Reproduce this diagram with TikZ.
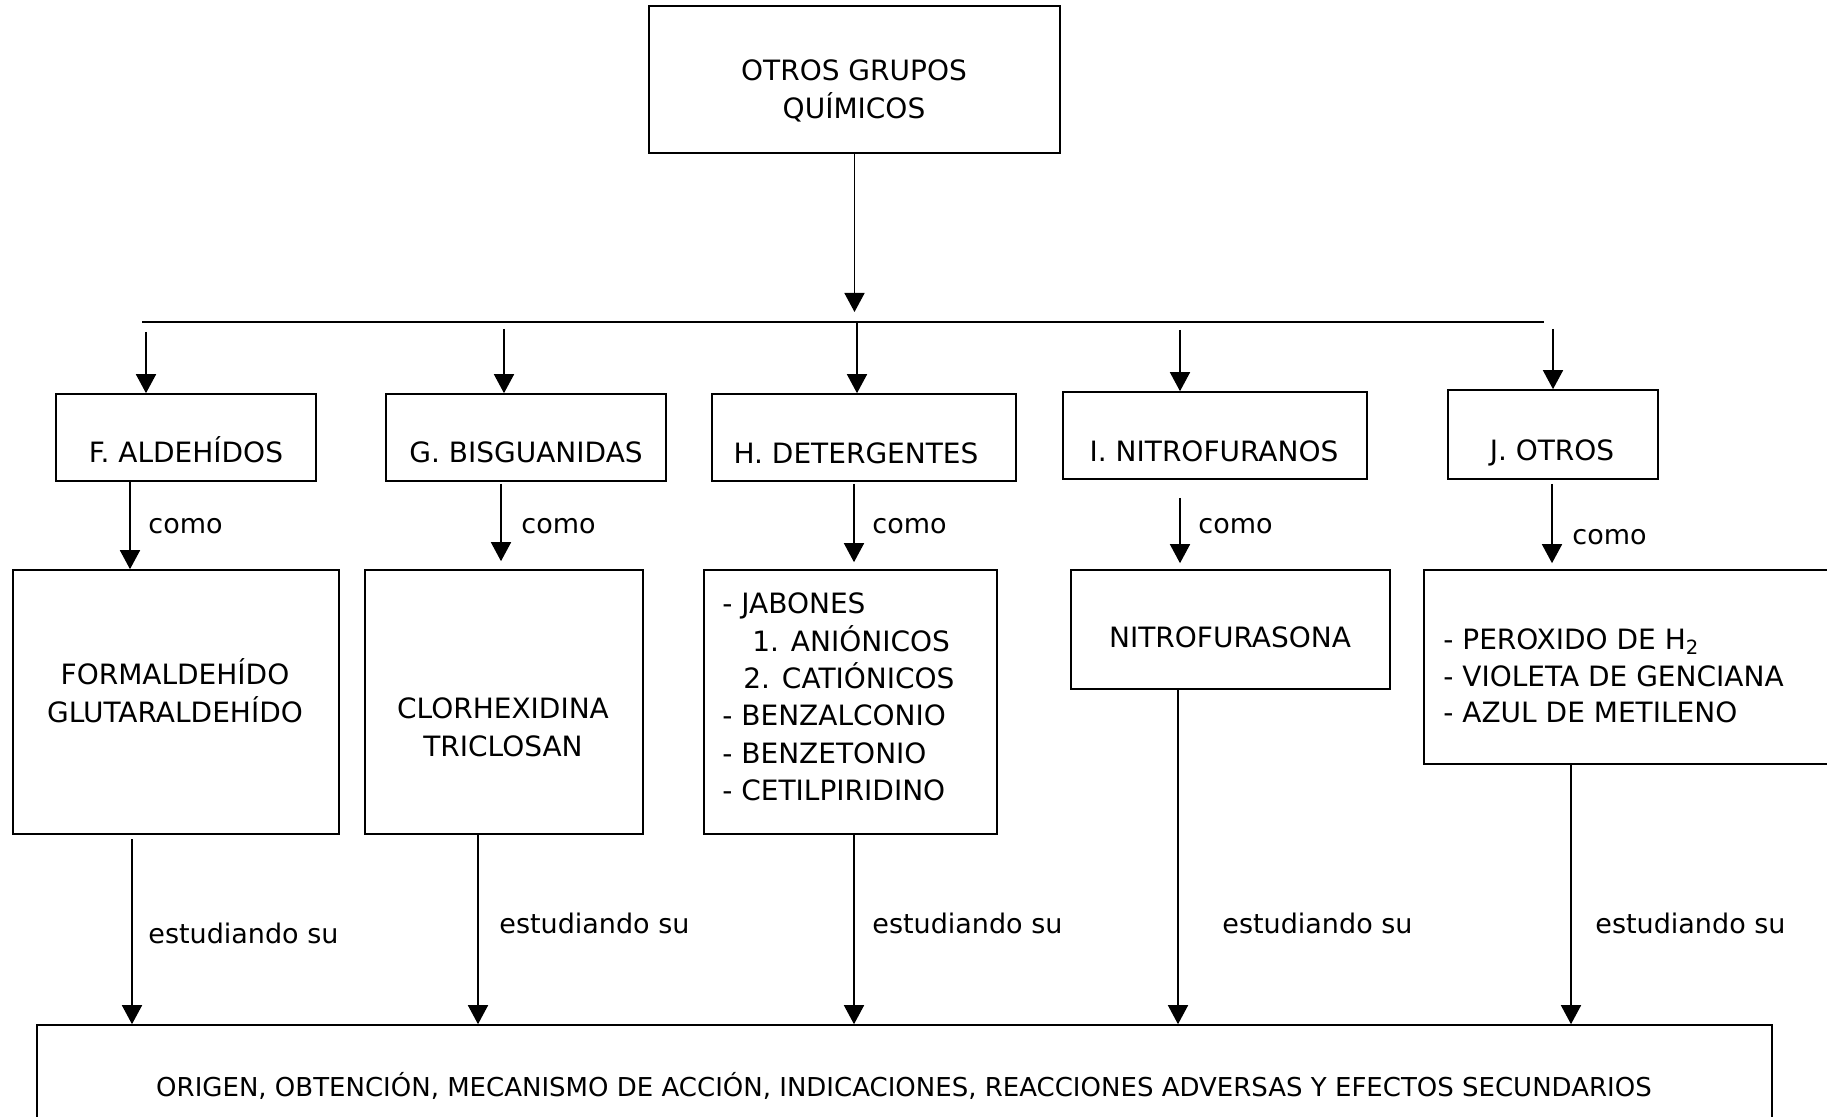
\documentclass[tikz,border=0pt]{standalone}
\usepackage{fontspec}
\setmainfont{DejaVu Sans}
\usetikzlibrary{arrows.meta,fit}

\begin{document}
\begin{tikzpicture}[x=0.5pt,y=-0.5pt,
  box/.style={draw, line width=0.8pt, rectangle, inner sep=0pt},
  wire/.style={line width=0.8pt},
  arr/.style={line width=0.8pt, -{Triangle[length=9.5pt,width=10pt]}},
  lbl/.style={font=\fontsize{14}{19}\selectfont, inner sep=0pt},
  small/.style={font=\fontsize{13.5}{18}\selectfont, inner sep=0pt, anchor=base west},
  foot/.style={font=\fontsize{13}{17}\selectfont, inner sep=0pt}]

\useasboundingbox (0,0) rectangle (1827,1117);
\clip (0,0) rectangle (1827,1117);

% root
\node[box, fit={(649,6) (1060,153)}] (TOP) {};
\node[lbl, align=center] (toptxt) at (854,91) {OTROS GRUPOS\\QUÍMICOS};

% distribution bar
\coordinate (busL) at (142,322);
\coordinate (busR) at (1544,322);
\draw[wire] (busL) -- (busR);
\draw[arr, shorten >=5pt] (TOP.south) -- (TOP.south |- busL);

% groups
\node[box, fit={(56,394) (316,481)}] (F) {};
\node[box, fit={(386,394) (666,481)}] (G) {};
\node[box, fit={(712,394) (1016,481)}] (H) {};
\node[box, fit={(1063,392) (1367,479)}] (I) {};
\node[box, fit={(1448,390) (1658,479)}] (J) {};

\node[lbl, anchor=base] (Ftxt) at (186,463) {F. ALDEHÍDOS};
\node[lbl, anchor=base] (Gtxt) at (526,463) {G. BISGUANIDAS};
\node[lbl, anchor=base] (Htxt) at (856,464) {H. DETERGENTES};
\node[lbl, anchor=base] (Itxt) at (1214,462) {I. NITROFURANOS};
\node[lbl, anchor=base] (Jtxt) at (1552,461) {J. OTROS};

\coordinate (aF) at (146,332);
\coordinate (aG) at (504,329);
\coordinate (aH) at (857,322);
\coordinate (aI) at (1180,330);
\coordinate (aJ) at (1553,329);
\draw[arr] (aF) -- (aF |- F.north);
\draw[arr] (aG) -- (aG |- G.north);
\draw[arr] (aH) -- (aH |- H.north);
\draw[arr] (aI) -- (aI |- I.north);
\draw[arr] (aJ) -- (aJ |- J.north);

% members
\node[box, fit={(13,570) (339,834)}] (FORM) {};
\node[box, fit={(365,570) (643,834)}] (CLOR) {};
\node[box, fit={(704,570) (997,834)}] (DET) {};
\node[box, fit={(1071,570) (1390,689)}] (NITRO) {};
\node[box, fit={(1424,570) (1845,764)}] (VAR) {};

\node[lbl, align=center] (FORMtxt) at (175,691) {FORMALDEHÍDO\\GLUTARALDEHÍDO};
\node[lbl, align=center] (CLORtxt) at (503,727) {CLORHEXIDINA\\TRICLOSAN};
\node[lbl, align=left, anchor=west, font=\fontsize{14}{18.7}\selectfont] (DETtxt) at (722,697)
  {- JABONES\\\hspace*{15pt}1. ANIÓNICOS\\\hspace*{10.5pt}2. CATIÓNICOS\\- BENZALCONIO\\- BENZETONIO\\- CETILPIRIDINO};
\node[lbl, anchor=base] (NITROtxt) at (1230,647) {NITROFURASONA};
\node[lbl, align=left, anchor=west, font=\fontsize{14}{18.3}\selectfont] (VARtxt) at (1443,676)
  {- PEROXIDO DE H\textsubscript{2}\\- VIOLETA DE GENCIANA\\- AZUL DE METILENO};

\coordinate (cF) at (130,481);
\coordinate (cG) at (501,484);
\coordinate (cH) at (854,484);
\coordinate (cI) at (1180,498);
\coordinate (cJ) at (1552,484);
\draw[arr] (cF) -- (cF |- FORM.north);
\draw[arr, shorten >=4pt] (cG) -- (cG |- CLOR.north);
\draw[arr, shorten >=3.5pt] (cH) -- (cH |- DET.north);
\draw[arr, shorten >=3pt] (cI) -- (cI |- NITRO.north);
\draw[arr, shorten >=3pt] (cJ) -- (cJ |- VAR.north);

\node[small] (comoF) at (148,534) {como};
\node[small] (comoG) at (521,534) {como};
\node[small] (comoH) at (872,534) {como};
\node[small] (comoI) at (1198,534) {como};
\node[small] (comoJ) at (1572,545) {como};

% common study topics
\node[box, fit={(37,1025) (1772,1140)}] (BOT) {};
\node[foot, anchor=base] (BOTtxt) at (904,1096)
  {ORIGEN, OBTENCIÓN, MECANISMO DE ACCIÓN, INDICACIONES, REACCIONES ADVERSAS Y EFECTOS SECUNDARIOS};

\coordinate (bF) at (132,839);
\coordinate (bG) at (478,834);
\coordinate (bH) at (854,834);
\coordinate (bI) at (1178,689);
\coordinate (bJ) at (1571,764);
\draw[arr] (bF) -- (bF |- BOT.north);
\draw[arr] (bG) -- (bG |- BOT.north);
\draw[arr] (bH) -- (bH |- BOT.north);
\draw[arr] (bI) -- (bI |- BOT.north);
\draw[arr] (bJ) -- (bJ |- BOT.north);

\node[small] (estF) at (148,943) {estudiando su};
\node[small] (estG) at (499,933) {estudiando su};
\node[small] (estH) at (872,933) {estudiando su};
\node[small] (estI) at (1222,933) {estudiando su};
\node[small] (estJ) at (1595,933) {estudiando su};
\end{tikzpicture}
\end{document}
